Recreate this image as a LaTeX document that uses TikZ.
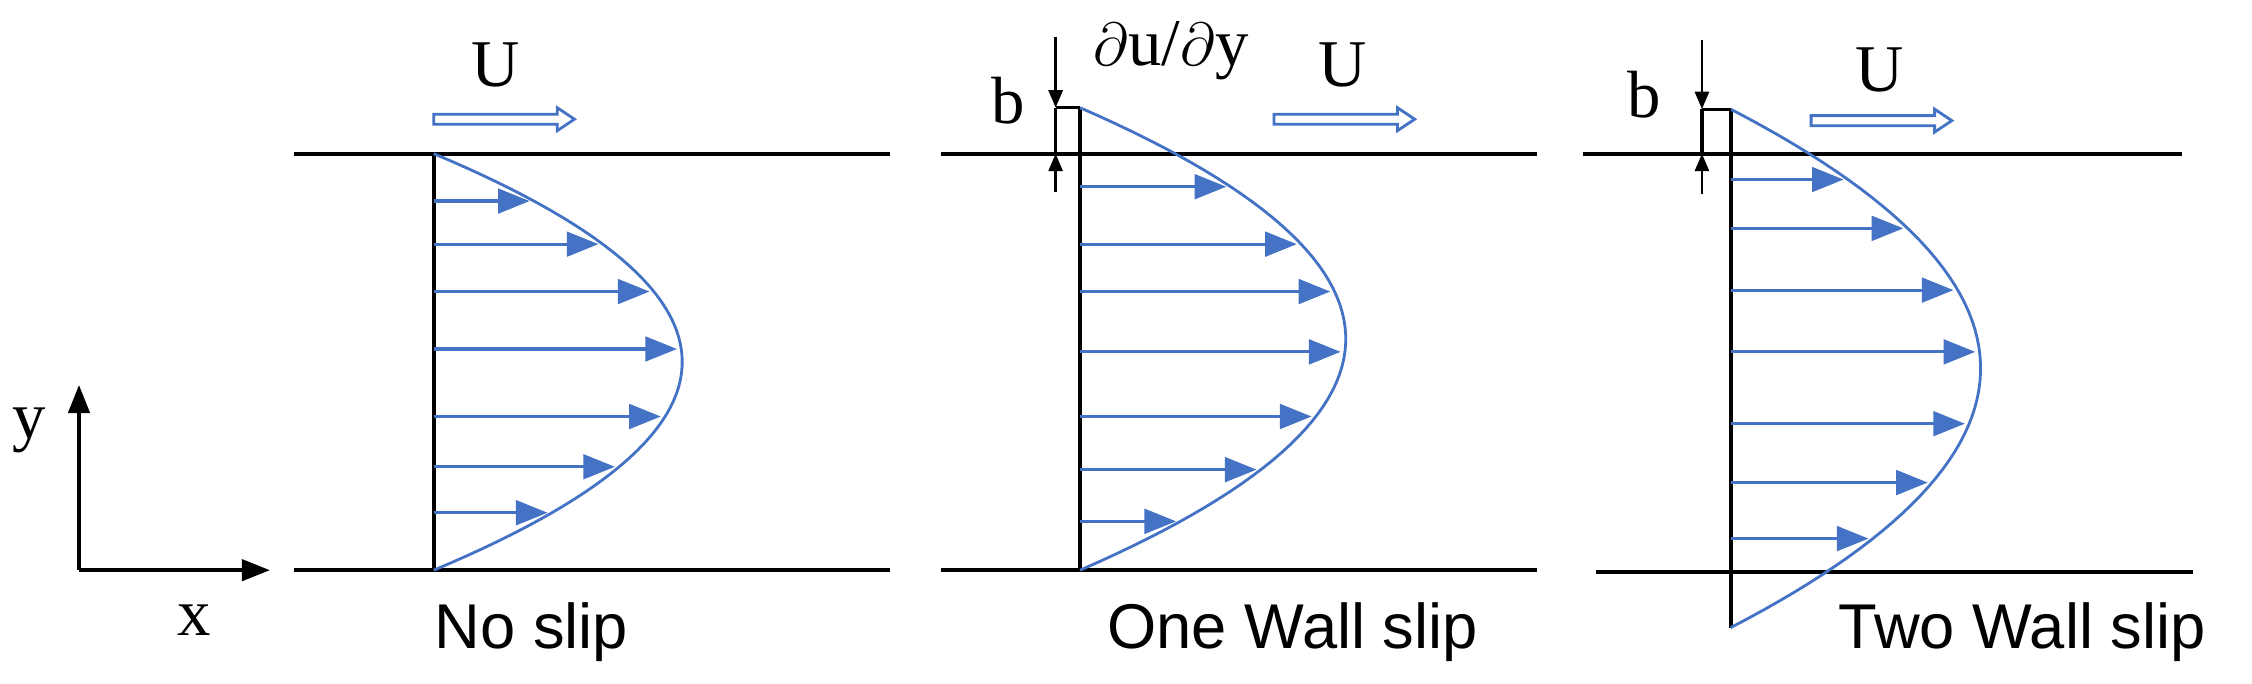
\documentclass[tikz,border=0pt]{standalone}
\usepackage{fontspec}
\setmainfont{Liberation Serif}
\newfontfamily\capfont{Liberation Sans}
\usetikzlibrary{arrows.meta}
\definecolor{flowblue}{RGB}{68,114,196}
\tikzset{
	every path/.style={line width=1.2pt},
	wall/.style={draw=black},
	profile/.style={draw=flowblue, line width=0.8pt},
	vel/.style={draw=flowblue, line width=0.9pt, -{Triangle[length=9pt,width=7pt]}},
	mean/.style={draw=flowblue, line width=0.8pt, fill=white},
	dim/.style={draw=black, line width=0.8pt, -{Triangle[length=5pt,width=4pt]}},
	sym/.style={font=\fontsize{19}{21}\selectfont},
	caption/.style={font=\capfont\fontsize{18}{20}\selectfont},
}
% parabolic profile: wall x, top y, bottom y, nose length
\newcommand{\flowprofile}[4]{
	\pgfmathsetmacro{\yc}{(#2+#3)/2}
	\pgfmathsetmacro{\hh}{(#3-#2)/2}
	\draw[profile] plot[domain=#2:#3, samples=60, variable=\t]
		({#1+#4*(1-((\t-\yc)/\hh)^2)}, \t);
}
% hollow mean-flow arrow: start x, end x, y
\newcommand{\meanflow}[3]{
	\draw[mean] (#1,#3-3.5) -- (#2-12,#3-3.5) -- (#2-12,#3-8) -- (#2,#3)
		-- (#2-12,#3+8) -- (#2-12,#3+3.5) -- (#1,#3+3.5) -- cycle;
}
\begin{document}
\begin{tikzpicture}[x=0.1436mm, y=-0.1436mm]
	\useasboundingbox (0,0) rectangle (1568,476);

	% axes
	\coordinate (o) at (55,397);
	\coordinate (ytip) at (55,268);
	\coordinate (xtip) at (188,397);
	\draw[-{Triangle[length=8pt,width=6pt]}] (o) -- (ytip);
	\draw[-{Triangle[length=8pt,width=6pt]}] (o) -- (xtip);
	\node[sym] (ylab) at (20,300) {y};
	\node[sym] (xlab) at (135,432) {x};

	% no slip
	\draw[wall] (205,107) -- (620,107);
	\draw[wall] (205,397) -- (620,397);
	\draw[wall] (302,107) -- (302,397);
	\flowprofile{302}{107}{397}{173}
	\foreach \y in {140,170,203,243,290,325,357}
		\draw[vel] (302,\y) -- ({302+173*(1-((\y-252)/145)^2)-3},\y);
	\meanflow{302}{400}{83}
	\node[sym] (u1) at (345,45) {U};
	\node[caption] (c1) at (370,440) {No slip};

	% one wall slip
	\draw[wall] (655,107) -- (1070,107);
	\draw[wall] (655,397) -- (1070,397);
	\draw[wall] (752,75) -- (752,397);
	\flowprofile{752}{75}{397}{185}
	\foreach \y in {130,170,203,245,290,327,363}
		\draw[vel] (752,\y) -- ({752+185*(1-((\y-236)/161)^2)-3},\y);
	\draw[wall, line width=0.9pt] (735,75) -- (752,75);
	\draw[wall, line width=0.9pt] (735,75) -- (735,107);
	\draw[dim] (735,26) -- (735,75);
	\draw[dim] (735,134) -- (735,107);
	\node[sym] (b2) at (702,70) {b};
	\node[sym, anchor=west] (dudy) at (752,35) {$\partial$u/$\partial$y};
	\meanflow{887}{985}{83}
	\node[sym] (u2) at (935,45) {U};
	\node[caption] (c2) at (900,440) {One Wall slip};

	% two wall slip
	\draw[wall] (1102,107) -- (1519,107);
	\draw[wall] (1111,398) -- (1527,398);
	\draw[wall] (1205,76) -- (1205,437);
	\flowprofile{1205}{76}{437}{174}
	\foreach \y in {125,159,202,245,295,336,375}
		\draw[vel] (1205,\y) -- ({1205+174*(1-((\y-256.5)/180.5)^2)-3},\y);
	\draw[wall, line width=0.9pt] (1185,76) -- (1205,76);
	\draw[wall, line width=0.9pt] (1185,76) -- (1185,107);
	\draw[dim] (1185,28) -- (1185,76);
	\draw[dim] (1185,135) -- (1185,107);
	\node[sym] (b3) at (1145,66) {b};
	\meanflow{1261}{1359}{84}
	\node[sym] (u3) at (1309,49) {U};
	\node[caption] (c3) at (1408,440) {Two Wall slip};
\end{tikzpicture}
\end{document}
